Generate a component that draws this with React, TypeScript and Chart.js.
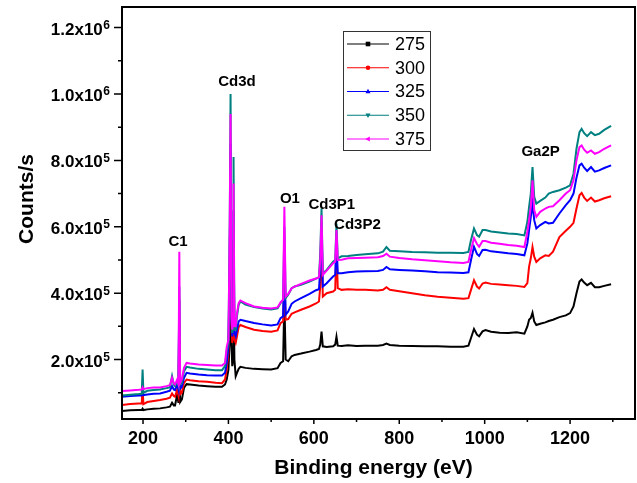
import React, { useEffect, useRef } from "react";
import { Chart, registerables } from "chart.js";

Chart.register(...registerables);

// Binding energy (eV)
const energies = [
  150, 170, 190, 197, 199, 201, 210, 225, 240, 255,
  263, 268, 272, 275, 280, 283, 285, 287, 291, 296,
  302, 310, 330, 350, 370, 385, 392, 396, 400, 403,
  405, 407, 409, 411, 412, 414, 417, 420, 424, 428,
  440, 460, 480, 500, 515, 522, 528, 531, 534, 540,
  548, 555, 570, 590, 605, 612, 615, 618, 621, 630,
  645, 650, 653, 656, 665, 680, 700, 720, 750, 762,
  770, 778, 800, 830, 860, 890, 920, 950, 962, 968,
  975, 982, 987, 995, 1002, 1015, 1035, 1055, 1075, 1093,
  1100, 1104, 1108, 1112, 1116, 1121, 1130, 1142, 1150, 1160,
  1175, 1190, 1200, 1208, 1215, 1222, 1227, 1233, 1240, 1249,
  1258, 1268, 1280, 1296,
];

// Counts/s in thousands (k counts/s)
const s275 = [
  45, 47, 48, 48, 52, 48, 50, 52, 53, 56,
  58, 70, 62, 62, 95, 70, 160, 72, 80, 115,
  126, 125, 122, 120, 118, 118, 125, 140, 170, 260,
  560, 250, 180, 200, 420, 200, 150, 160, 172, 178,
  175, 172, 171, 170, 174, 190, 195, 380, 200, 195,
  210, 214, 218, 224, 229, 232, 245, 284, 240, 238,
  240, 245, 269, 242, 241, 243, 241, 242, 242, 244,
  248, 244, 242, 241, 240, 240, 239, 239, 242, 265,
  292, 275, 270, 285, 289, 284, 281, 280, 282, 278,
  300, 320, 325, 341, 315, 304, 308, 312, 316, 320,
  328, 333, 340, 360, 400, 435, 441, 432, 424, 431,
  418, 418, 422, 427,
];
const s300 = [
  63, 66, 68, 68, 112, 66, 72, 75, 78, 82,
  85, 98, 90, 88, 110, 92, 300, 95, 100, 130,
  140, 138, 135, 133, 130, 129, 140, 170, 220, 400,
  750, 300, 250, 290, 560, 260, 250, 270, 298, 304,
  298, 290, 286, 284, 288, 310, 315, 450, 320, 322,
  338, 342, 350, 360, 369, 375, 420, 560, 390, 400,
  405, 410, 540, 415, 410, 412, 410, 410, 408, 410,
  418, 410, 406, 400, 394, 389, 386, 383, 385, 410,
  439, 420, 414, 429, 432, 428, 426, 424, 422, 419,
  430, 480, 505, 539, 510, 494, 505, 514, 512, 525,
  569, 588, 600, 612, 655, 695, 702, 688, 678, 688,
  676, 680, 686, 692,
];
const s325 = [
  88, 90, 92, 92, 98, 93, 95, 97, 98, 103,
  106, 120, 110, 108, 125, 110, 380, 112, 118, 145,
  160, 158, 155, 153, 152, 152, 160, 190, 240, 500,
  850, 320, 270, 310, 650, 280, 270, 290, 315, 320,
  316, 310, 306, 303, 306, 325, 330, 520, 335, 345,
  368, 375, 385, 398, 409, 412, 470, 600, 420, 430,
  450, 455, 560, 460, 460, 463, 465, 466, 467, 470,
  479, 472, 470, 468, 466, 463, 462, 461, 463, 500,
  540, 518, 512, 530, 531, 526, 523, 520, 518, 514,
  550, 590, 630, 670, 620, 595, 605, 615, 610, 612,
  640, 665, 680, 700, 748, 785, 790, 778, 768, 780,
  766, 770, 777, 785,
];
const s350 = [
  92, 94, 96, 97, 170, 100, 106, 108, 110, 114,
  116, 150, 125, 120, 135, 122, 420, 125, 130, 165,
  178, 176, 172, 170, 168, 168, 180, 225, 250, 600,
  1000, 330, 280, 330, 810, 290, 290, 330, 365, 375,
  366, 358, 354, 351, 354, 370, 380, 600, 385, 395,
  415, 420, 425, 435, 444, 448, 520, 655, 460, 470,
  495, 500, 610, 505, 511, 512, 515, 517, 520, 525,
  539, 528, 526, 524, 523, 522, 522, 521, 524, 560,
  595, 575, 570, 590, 590, 586, 583, 580, 578, 574,
  615, 660, 700, 780, 690, 670, 678, 688, 700, 705,
  710, 718, 725, 760, 835, 885, 895, 882, 873, 885,
  876, 880, 892, 904,
];
const s375 = [
  105, 107, 109, 110, 116, 111, 114, 116, 116, 120,
  123, 145, 128, 125, 140, 126, 525, 130, 140, 175,
  190, 188, 185, 184, 182, 182, 190, 238, 260, 600,
  940, 330, 290, 340, 730, 300, 300, 340, 370, 378,
  370, 360, 356, 354, 357, 372, 380, 660, 390, 398,
  415, 420, 428, 438, 444, 448, 500, 635, 455, 468,
  490, 495, 590, 500, 501, 505, 506, 507, 508, 512,
  519, 510, 506, 502, 499, 496, 493, 491, 494, 530,
  566, 548, 540, 557, 557, 552, 549, 545, 543, 539,
  585, 620, 660, 740, 650, 630, 645, 655, 660, 662,
  680, 700, 710, 740, 800, 840, 845, 832, 823, 830,
  820, 825, 835, 845,
];

const seriesNames = ["275", "300", "325", "350", "375"];
const seriesColors = ["#000000", "#ff0000", "#0000ff", "#008080", "#ff00ff"];
const markerStyles = ["square", "circle", "triUp", "triDown", "triLeft"];

const xMajorTicks = [200, 400, 600, 800, 1000, 1200];
const xMinorTicks = [300, 500, 700, 900, 1100, 1300];
const yMajorTicks = [200000, 400000, 600000, 800000, 1000000, 1200000];
const yMinorTicks = [100000, 300000, 500000, 700000, 900000, 1100000];
const yTickMantissa = ["2.0", "4.0", "6.0", "8.0", "1.0", "1.2"];
const yTickExponent = ["5", "5", "5", "5", "6", "6"];

const peakLabels = ["C1", "Cd3d", "O1", "Cd3P1", "Cd3P2", "Ga2P"];
const peakLabelEnergy = [282, 420, 544, 642, 702, 1131];
const peakLabelCounts = [555000, 1037000, 683000, 666000, 606000, 827000];

const FONT = '"Liberation Sans", Arial, Helvetica, sans-serif';

function drawMarker(ctx: CanvasRenderingContext2D, style: string, x: number, y: number, r: number) {
  ctx.beginPath();
  if (style === "square") {
    ctx.rect(x - r, y - r, 2 * r, 2 * r);
  } else if (style === "circle") {
    ctx.arc(x, y, r, 0, Math.PI * 2);
  } else if (style === "triUp") {
    ctx.moveTo(x, y - r * 1.2);
    ctx.lineTo(x + r * 1.1, y + r * 0.8);
    ctx.lineTo(x - r * 1.1, y + r * 0.8);
    ctx.closePath();
  } else if (style === "triDown") {
    ctx.moveTo(x, y + r * 1.2);
    ctx.lineTo(x + r * 1.1, y - r * 0.8);
    ctx.lineTo(x - r * 1.1, y - r * 0.8);
    ctx.closePath();
  } else {
    ctx.moveTo(x - r * 1.2, y);
    ctx.lineTo(x + r * 0.8, y - r * 1.1);
    ctx.lineTo(x + r * 0.8, y + r * 1.1);
    ctx.closePath();
  }
  ctx.fill();
}

const decorPlugin = {
  id: "decor",
  afterDraw(chart: any) {
    const { ctx, chartArea: a, scales } = chart;
    const xs = scales.x;
    const ys = scales.y;
    ctx.save();
    ctx.fillStyle = "#000";
    ctx.strokeStyle = "#000";

    // frame
    ctx.lineWidth = 2;
    ctx.strokeRect(a.left, a.top, a.right - a.left, a.bottom - a.top);

    // ticks
    ctx.lineWidth = 1.5;
    ctx.beginPath();
    xMajorTicks.forEach((v) => {
      const px = xs.getPixelForValue(v);
      ctx.moveTo(px, a.bottom);
      ctx.lineTo(px, a.bottom + 5);
    });
    xMinorTicks.forEach((v) => {
      const px = xs.getPixelForValue(v);
      ctx.moveTo(px, a.bottom);
      ctx.lineTo(px, a.bottom + 3);
    });
    yMajorTicks.forEach((v) => {
      const py = ys.getPixelForValue(v);
      ctx.moveTo(a.left, py);
      ctx.lineTo(a.left - 8, py);
    });
    yMinorTicks.forEach((v) => {
      const py = ys.getPixelForValue(v);
      ctx.moveTo(a.left, py);
      ctx.lineTo(a.left - 4, py);
    });
    ctx.stroke();

    // x tick labels
    ctx.font = `bold 18px ${FONT}`;
    ctx.textAlign = "center";
    ctx.textBaseline = "middle";
    xMajorTicks.forEach((v) => {
      ctx.fillText(String(v), xs.getPixelForValue(v), a.bottom + 20);
    });

    // y tick labels with superscript
    const rightEdge = a.left - 12;
    yMajorTicks.forEach((v, i) => {
      const py = ys.getPixelForValue(v);
      ctx.textAlign = "right";
      ctx.textBaseline = "alphabetic";
      ctx.font = `bold 12px ${FONT}`;
      const supW = ctx.measureText(yTickExponent[i]).width;
      ctx.fillText(yTickExponent[i], rightEdge, py + 1.5);
      ctx.font = `bold 17px ${FONT}`;
      ctx.fillText(yTickMantissa[i] + "x10", rightEdge - supW - 0.5, py + 7);
    });

    // axis titles
    ctx.font = `bold 21px ${FONT}`;
    ctx.textAlign = "center";
    ctx.textBaseline = "middle";
    ctx.fillText("Binding energy (eV)", (a.left + a.right) / 2 - 5, a.bottom + 49);
    ctx.save();
    ctx.translate(27, 199);
    ctx.rotate(-Math.PI / 2);
    ctx.fillText("Counts/s", 0, 0);
    ctx.restore();

    // peak annotations
    ctx.font = `bold 15px ${FONT}`;
    peakLabels.forEach((t, i) => {
      ctx.fillText(t, xs.getPixelForValue(peakLabelEnergy[i]), ys.getPixelForValue(peakLabelCounts[i]));
    });

    // legend
    const bx = a.left + 221;
    const by = a.top + 24;
    const bw = 87;
    const bh = 119;
    ctx.fillStyle = "#fff";
    ctx.fillRect(bx, by, bw, bh);
    ctx.strokeStyle = "#333";
    ctx.lineWidth = 1;
    ctx.strokeRect(bx + 0.5, by + 0.5, bw, bh);
    seriesNames.forEach((name, i) => {
      const ry = a.top + 37 + i * 23.75;
      ctx.strokeStyle = seriesColors[i];
      ctx.lineWidth = 1;
      ctx.beginPath();
      ctx.moveTo(bx + 4, ry);
      ctx.lineTo(bx + 46, ry);
      ctx.stroke();
      ctx.fillStyle = seriesColors[i];
      drawMarker(ctx, markerStyles[i], bx + 25, ry, 2.3);
      ctx.fillStyle = "#000";
      ctx.font = `18px ${FONT}`;
      ctx.textAlign = "left";
      ctx.textBaseline = "middle";
      ctx.fillText(name, bx + 52, ry + 1);
    });

    ctx.restore();
  },
};

export default function App() {
  const ref = useRef<HTMLCanvasElement>(null);
  useEffect(() => {
    document.body.style.margin = "0";
    const canvas = ref.current;
    if (!canvas) return;
    const all = [s275, s300, s325, s350, s375];
    const datasets = all.map((vals, i) => ({
      label: seriesNames[i],
      data: energies.map((e, j) => ({ x: e, y: vals[j] * 1000 })),
      borderColor: seriesColors[i],
      backgroundColor: seriesColors[i],
      borderWidth: 2,
      pointRadius: 0,
      tension: 0,
      fill: false,
      order: 4 - i,
    }));
    const chart = new Chart(canvas, {
      type: "line",
      data: { datasets },
      options: {
        animation: false,
        responsive: false,
        devicePixelRatio: 1,
        events: [],
        layout: { padding: { top: 7, right: 2, left: 0, bottom: 0 } },
        plugins: { legend: { display: false }, tooltip: { enabled: false } },
        scales: {
          x: {
            type: "linear",
            min: 150.8,
            max: 1352,
            ticks: { display: false },
            grid: { display: false },
            border: { display: false },
            afterFit: (s: any) => {
              s.height = 64;
            },
          },
          y: {
            type: "linear",
            min: 21000,
            max: 1262000,
            ticks: { display: false },
            grid: { display: false },
            border: { display: false },
            afterFit: (s: any) => {
              s.width = 122;
            },
          },
        },
      },
      plugins: [decorPlugin],
    } as any);
    return () => chart.destroy();
  }, []);
  return <canvas ref={ref} width={637} height={483} style={{ display: "block" }} />;
}
